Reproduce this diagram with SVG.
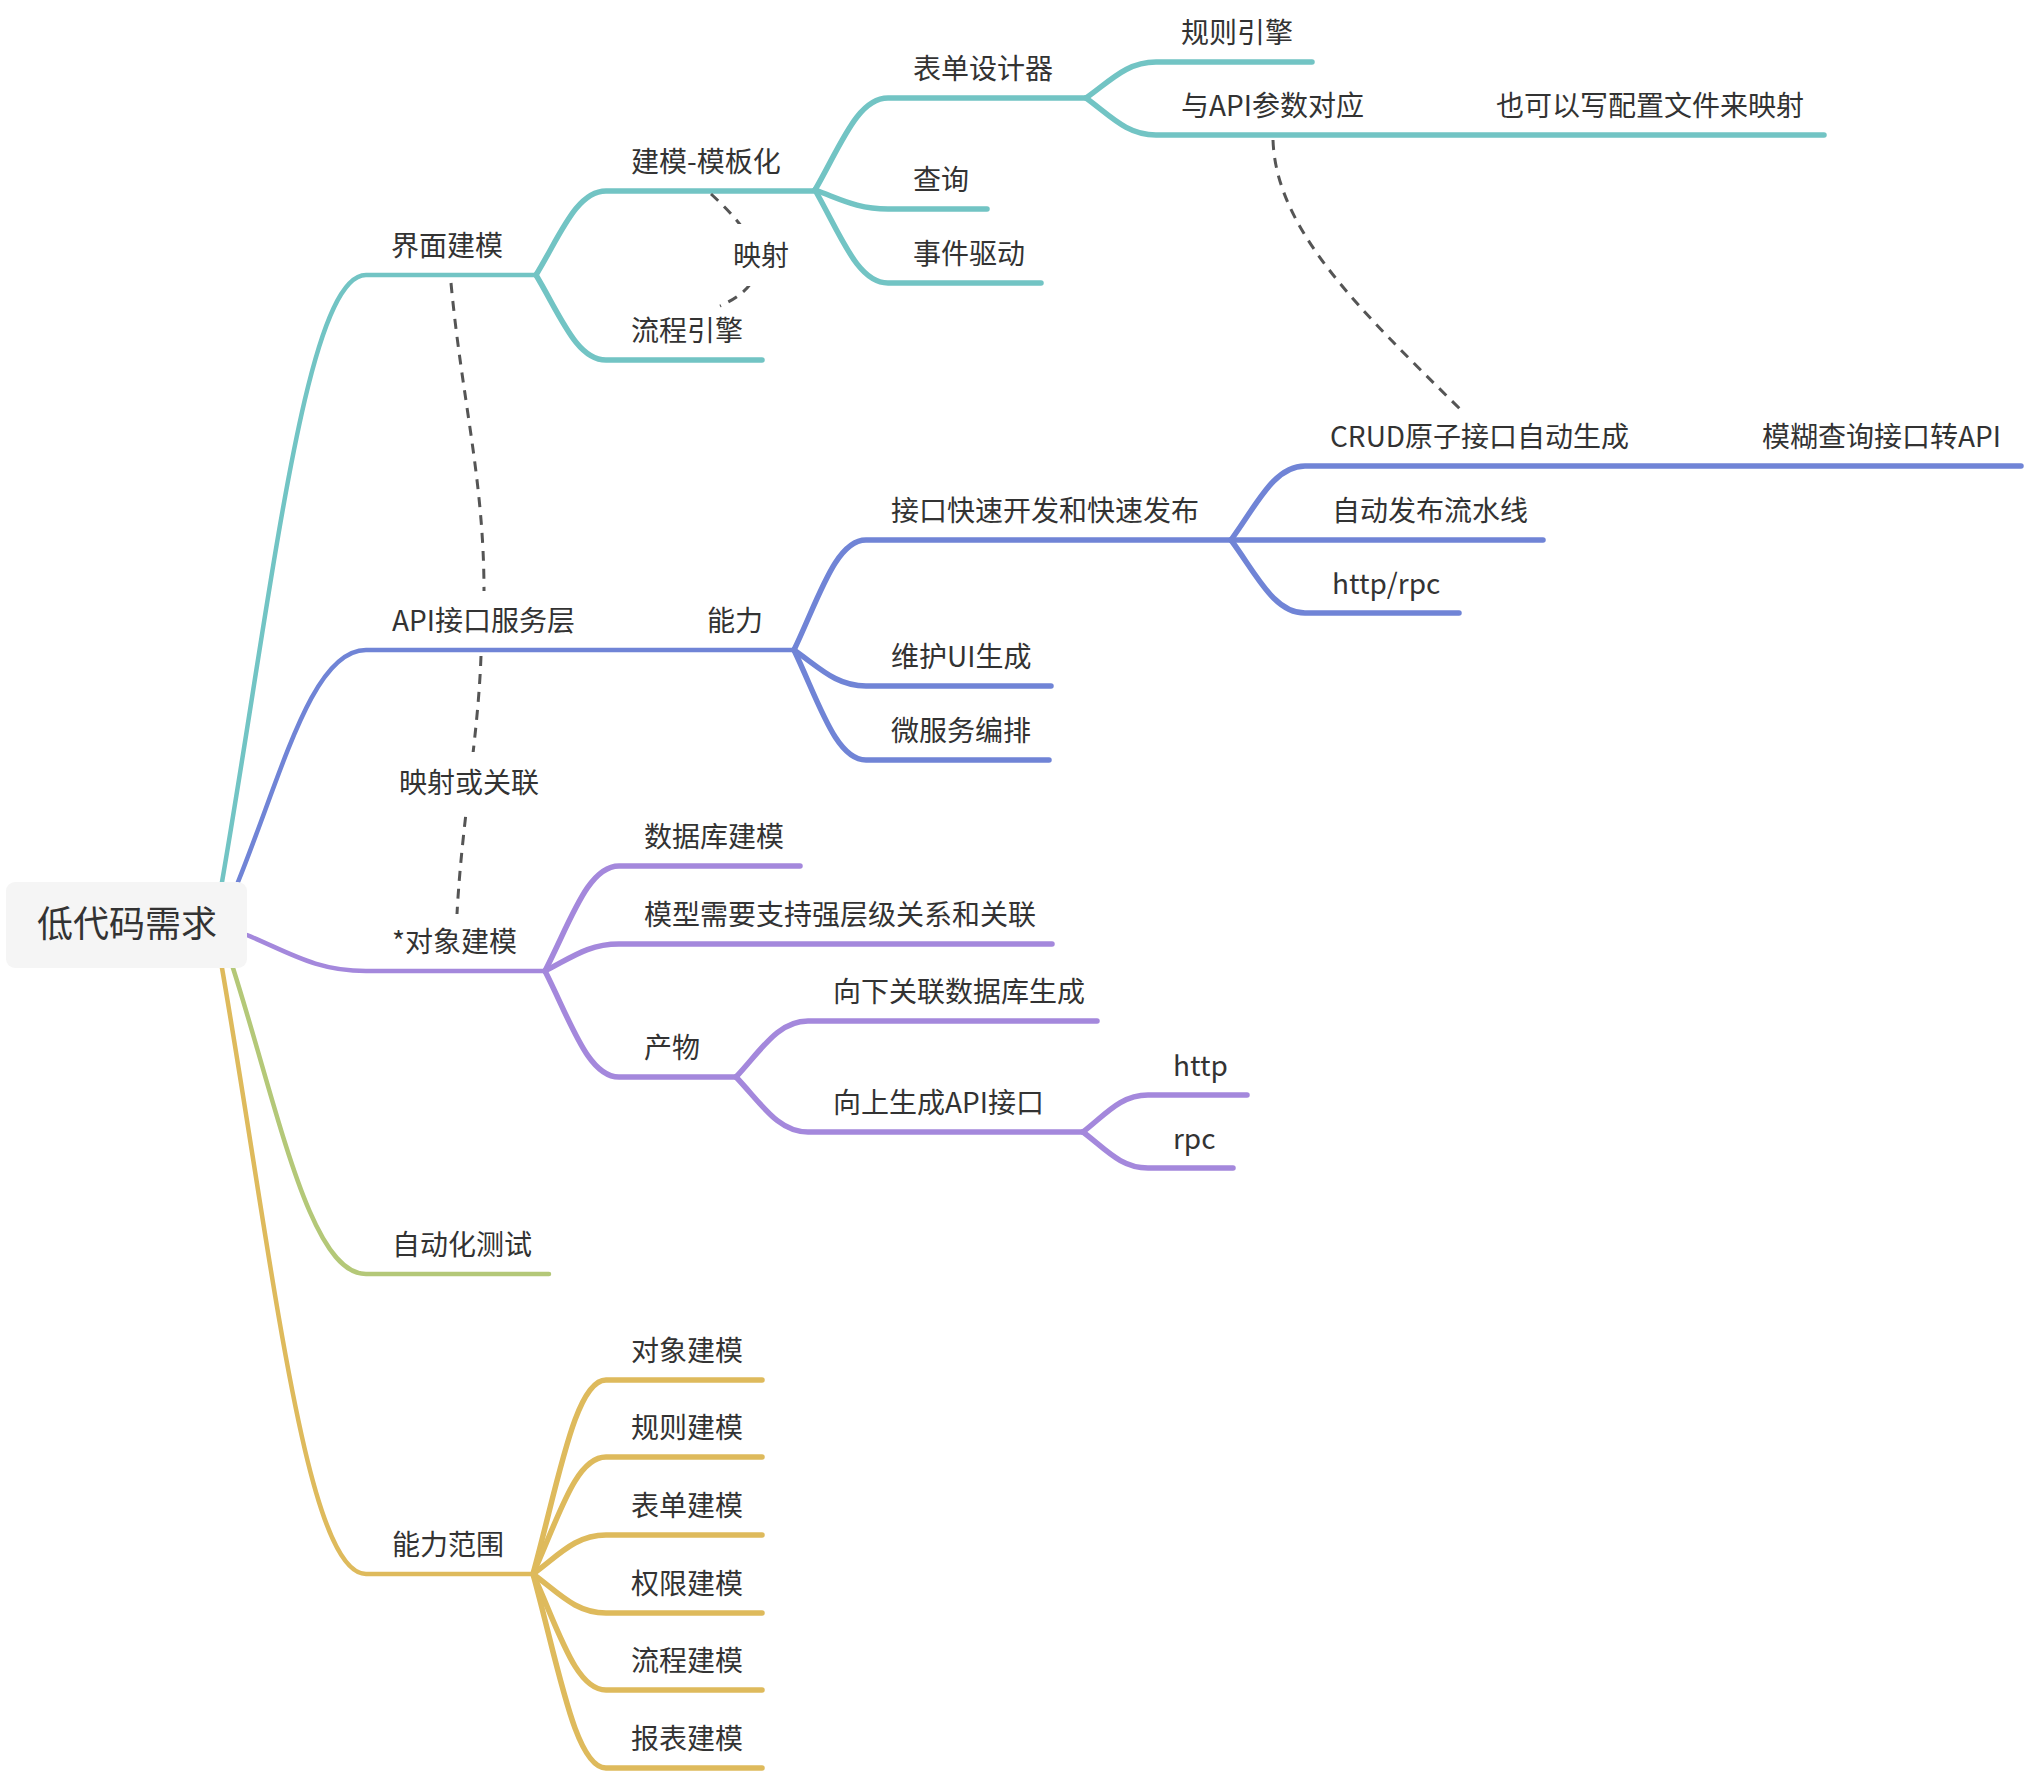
<svg xmlns="http://www.w3.org/2000/svg" width="2024" height="1772" viewBox="0 0 2024 1772">
<style>
  text { font-family: "Noto Sans CJK SC", "Noto Sans", sans-serif; font-size: 28px; fill: #333333; }
  .root { font-size: 36px; }
  .b { fill: none; stroke-linecap: round; stroke-linejoin: round; stroke-width: 5.5; }
  .r { stroke-width: 4.5; }
  .teal { stroke: #72C4C4; }
  .blue { stroke: #7084D6; }
  .purple { stroke: #A488DC; }
  .green { stroke: #B4C878; }
  .gold { stroke: #DEBA5C; }
  .rel { fill: none; stroke: #555555; stroke-width: 3; stroke-dasharray: 10 8; }
</style>
<rect width="2024" height="1772" fill="#ffffff"/>

<g id="connectors">
  <!-- root branches -->
  <path class="b r teal" d="M222 882 C272.4 590.6 305.5 275 366 275 H536"/>
  <path class="b r blue" d="M238 882 C282.8 770.6 312.2 650 366 650 H794"/>
  <path class="b r purple" d="M247 935 C288.7 952.3 316 971 366 971 H545"/>
  <path class="b r green" d="M233 968 C279.6 1114.9 310.1 1274 366 1274 H549"/>
  <path class="b r gold" d="M222 968 C272.4 1258.9 305.5 1574 366 1574 H533"/>

  <!-- teal -->
  <path class="b teal" d="M536 275 C560.5 234.7 576.6 191 606 191 H815"/>
  <path class="b teal" d="M536 275 C560.5 315.8 576.6 360 606 360 H762"/>
  <path class="b teal" d="M815 190 C840.6 145.8 857.3 98 888 98 H1086"/>
  <path class="b teal" d="M815 190 C840.6 199.1 857.3 209 888 209 H987"/>
  <path class="b teal" d="M815 190 C840.6 234.6 857.3 283 888 283 H1041"/>
  <path class="b teal" d="M1086 98 C1110.5 80.7 1126.6 62 1156 62 H1312"/>
  <path class="b teal" d="M1086 98 C1110.5 115.8 1126.6 135 1156 135 H1824"/>

  <!-- blue -->
  <path class="b blue" d="M794 650 C819.2 597.2 835.8 540 866 540 H1231"/>
  <path class="b blue" d="M794 650 C819.2 667.3 835.8 686 866 686 H1051"/>
  <path class="b blue" d="M794 650 C819.2 702.8 835.8 760 866 760 H1049"/>
  <path class="b blue" d="M1231 540 C1256.9 504.5 1273.9 466 1305 466 H2021"/>
  <path class="b blue" d="M1231 540 H1543"/>
  <path class="b blue" d="M1231 540 C1256.9 575 1273.9 613 1305 613 H1459"/>

  <!-- purple -->
  <path class="b purple" d="M545 971 C570.9 920.6 587.9 866 619 866 H800"/>
  <path class="b purple" d="M545 971 C570.9 958 587.9 944 619 944 H1052"/>
  <path class="b purple" d="M545 971 C570.9 1021.9 587.9 1077 619 1077 H736"/>
  <path class="b purple" d="M736 1077 C761.2 1050.1 777.8 1021 808 1021 H1097"/>
  <path class="b purple" d="M736 1077 C761.2 1103.4 777.8 1132 808 1132 H1083"/>
  <path class="b purple" d="M1083 1132 C1105.8 1114.2 1120.7 1095 1148 1095 H1247"/>
  <path class="b purple" d="M1083 1132 C1105.8 1149.3 1120.7 1168 1148 1168 H1233"/>

  <!-- gold -->
  <path class="b gold" d="M533 1574 C558.6 1480.9 575.3 1380 606 1380 H762"/>
  <path class="b gold" d="M533 1574 C558.6 1517.8 575.3 1457 606 1457 H762"/>
  <path class="b gold" d="M533 1574 C558.6 1555.3 575.3 1535 606 1535 H762"/>
  <path class="b gold" d="M533 1574 C558.6 1592.7 575.3 1613 606 1613 H762"/>
  <path class="b gold" d="M533 1574 C558.6 1629.7 575.3 1690 606 1690 H762"/>
  <path class="b gold" d="M533 1574 C558.6 1667.1 575.3 1768 606 1768 H762"/>

  <!-- relationships -->
  <path class="rel" d="M711 194 C745 225 790 275 720 306"/>
  <path class="rel" d="M451 283 C462 400 484 480 484 591"/>
  <path class="rel" d="M481 656 C478 740 462 820 457 914"/>
  <path class="rel" d="M1273 140 C1276 230 1360 310 1461 410"/>
  <rect x="727" y="224" width="68" height="62" fill="#ffffff"/>
  <rect x="396" y="752" width="146" height="60" fill="#ffffff"/>
  <text x="733" y="266">映射</text>
  <text x="469" y="793" text-anchor="middle">映射或关联</text>
</g>

<g id="root">
  <rect x="6" y="882" width="241" height="86" rx="9" fill="#F5F5F5"/>
  <text class="root" x="127" y="937" text-anchor="middle">低代码需求</text>
</g>

<g id="n-jiemian"><text x="391" y="256">界面建模</text></g>
<g id="n-api"><text x="392" y="631">API接口服务层</text></g>
<g id="n-nengli"><text x="707" y="631">能力</text></g>
<g id="n-duixiang"><text x="392" y="952">*对象建模</text></g>
<g id="n-zidonghua"><text x="392" y="1255">自动化测试</text></g>
<g id="n-fanwei"><text x="392" y="1555">能力范围</text></g>

<g id="n-moban"><text x="631" y="172">建模-模板化</text></g>
<g id="n-liucheng"><text x="631" y="341">流程引擎</text></g>
<g id="n-biaodan"><text x="913" y="79">表单设计器</text></g>
<g id="n-chaxun"><text x="913" y="190">查询</text></g>
<g id="n-shijian"><text x="913" y="264">事件驱动</text></g>
<g id="n-guize"><text x="1181" y="43">规则引擎</text></g>
<g id="n-apicanshu"><text x="1181" y="116">与API参数对应</text></g>
<g id="n-peizhi"><text x="1496" y="116">也可以写配置文件来映射</text></g>

<g id="n-kuaisu"><text x="891" y="521">接口快速开发和快速发布</text></g>
<g id="n-weihu"><text x="891" y="667">维护UI生成</text></g>
<g id="n-weifuwu"><text x="891" y="741">微服务编排</text></g>
<g id="n-crud"><text x="1330" y="447">CRUD原子接口自动生成</text></g>
<g id="n-mohu"><text x="1762" y="447">模糊查询接口转API</text></g>
<g id="n-fabu"><text x="1332" y="521">自动发布流水线</text></g>
<g id="n-httprpc"><text x="1332" y="594">http/rpc</text></g>

<g id="n-shujuku"><text x="644" y="847">数据库建模</text></g>
<g id="n-moxing"><text x="644" y="925">模型需要支持强层级关系和关联</text></g>
<g id="n-chanwu"><text x="644" y="1058">产物</text></g>
<g id="n-xiangxia"><text x="833" y="1002">向下关联数据库生成</text></g>
<g id="n-xiangshang"><text x="833" y="1113">向上生成API接口</text></g>
<g id="n-http"><text x="1173" y="1076">http</text></g>
<g id="n-rpc"><text x="1173" y="1149">rpc</text></g>

<g id="n-g1"><text x="631" y="1361">对象建模</text></g>
<g id="n-g2"><text x="631" y="1438">规则建模</text></g>
<g id="n-g3"><text x="631" y="1516">表单建模</text></g>
<g id="n-g4"><text x="631" y="1594">权限建模</text></g>
<g id="n-g5"><text x="631" y="1671">流程建模</text></g>
<g id="n-g6"><text x="631" y="1749">报表建模</text></g>
</svg>
